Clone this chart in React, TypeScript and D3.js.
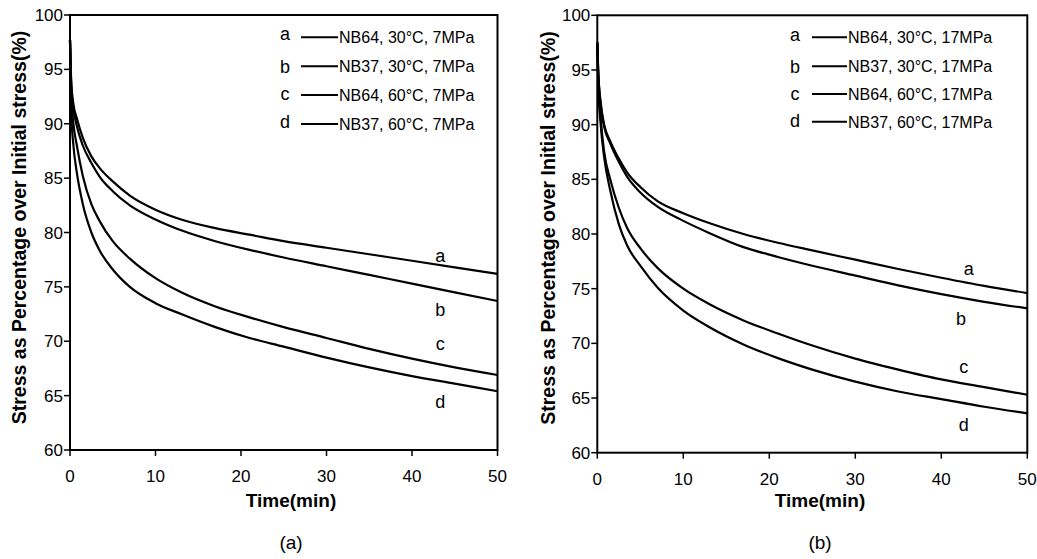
import React from "react";
import * as d3 from "d3";

// ---------- data ----------
const timesLeft = [0, 0.15, 0.4, 0.8, 1.5, 2.5, 3.5, 5, 7, 10, 13, 17, 21, 25, 30, 35, 40, 45, 50];
const leftA = [97.7, 93.8, 91.8, 90.5, 88.7, 87.0, 85.9, 84.7, 83.4, 82.1, 81.2, 80.4, 79.8, 79.2, 78.6, 78.0, 77.4, 76.8, 76.2];
const leftB = [97.7, 93.5, 91.4, 89.8, 88.0, 86.4, 85.1, 83.8, 82.5, 81.2, 80.2, 79.2, 78.4, 77.7, 76.9, 76.1, 75.3, 74.5, 73.7];
const leftC = [97.7, 92.5, 90.0, 88.0, 85.2, 82.6, 81.0, 79.2, 77.6, 75.8, 74.5, 73.2, 72.2, 71.3, 70.3, 69.3, 68.4, 67.6, 66.9];
const leftD = [97.7, 91.0, 88.0, 85.5, 82.6, 80.0, 78.3, 76.6, 75.0, 73.5, 72.5, 71.3, 70.3, 69.5, 68.5, 67.6, 66.8, 66.1, 65.4];

const timesRight = [0, 0.1, 0.4, 0.8, 1.5, 2.5, 3.5, 5, 7, 10, 13, 17, 21, 25, 30, 35, 40, 45, 50];
const rightA = [97.5, 95.0, 92.0, 90.0, 88.5, 86.9, 85.6, 84.3, 83.0, 81.9, 81.0, 80.0, 79.2, 78.5, 77.65, 76.8, 76.0, 75.25, 74.6];
const rightB = [97.5, 95.0, 91.8, 89.8, 88.3, 86.6, 85.2, 83.8, 82.5, 81.2, 80.1, 78.8, 77.9, 77.1, 76.2, 75.3, 74.5, 73.8, 73.2];
const rightC = [97.5, 94.5, 90.5, 87.5, 85.0, 82.4, 80.5, 78.7, 76.9, 75.0, 73.6, 72.1, 70.9, 69.8, 68.6, 67.6, 66.7, 66.0, 65.3];
const rightD = [97.5, 94.0, 90.0, 87.0, 84.0, 80.9, 78.9, 77.1, 75.1, 73.0, 71.5, 69.9, 68.65, 67.6, 66.5, 65.6, 64.9, 64.2, 63.6];

const seriesKeys = ["a", "b", "c", "d"];
const legendLeft = ["NB64, 30°C, 7MPa", "NB37, 30°C, 7MPa", "NB64, 60°C, 7MPa", "NB37, 60°C, 7MPa"];
const legendRight = ["NB64, 30°C, 17MPa", "NB37, 30°C, 17MPa", "NB64, 60°C, 17MPa", "NB37, 60°C, 17MPa"];
// curve-end label anchors (time, value)
const labelTimesLeft = [43.3, 43.3, 43.3, 43.3];
const labelValuesLeft = [77.3, 72.3, 69.2, 63.9];
const labelTimesRight = [43.2, 42.3, 42.6, 42.6];
const labelValuesRight = [76.25, 71.7, 67.3, 62.0];

const xTickValues = [0, 10, 20, 30, 40, 50];
const yTickValues = [60, 65, 70, 75, 80, 85, 90, 95, 100];
const xTitle = "Time(min)";
const yTitle = "Stress as Percentage over Initial stress(%)";

const FONT = "'Liberation Sans', Arial, Helvetica, sans-serif";

type PanelProps = {
  x0: number; x1: number; y0: number; y1: number;
  times: number[];
  series: number[][];
  legend: string[];
  letterX: number;
  letterBaselines: number[];
  lineX0: number; lineX1: number;
  legendBaselines: number[];
  labelTimes: number[];
  labelValues: number[];
  yTitleX: number; yTitleY: number;
  centerX: number;
  caption: string;
};

function Panel(p: PanelProps) {
  const x = d3.scaleLinear().domain([0, 50]).range([p.x0, p.x1]);
  const y = d3.scaleLinear().domain([60, 100]).range([p.y0, p.y1]);
  const line = d3
    .line<[number, number]>()
    .x((d) => x(d[0]))
    .y((d) => y(d[1]))
    .curve(d3.curveMonotoneX);

  return (
    <g>
      {/* curves */}
      {p.series.map((vals, i) => (
        <path
          key={"s" + i}
          d={line(p.times.map((t, j) => [t, vals[j]] as [number, number])) || ""}
          fill="none"
          stroke="#000"
          strokeWidth={2.2}
          strokeLinejoin="round"
        />
      ))}
      {/* frame */}
      <rect x={p.x0} y={p.y1} width={p.x1 - p.x0} height={p.y0 - p.y1} fill="none" stroke="#000" strokeWidth={2} />
      {/* y ticks */}
      {yTickValues.map((v) => (
        <g key={"yt" + v}>
          <line x1={p.x0 - 6} x2={p.x0} y1={y(v)} y2={y(v)} stroke="#000" strokeWidth={1.5} />
          <text x={p.x0 - 7} y={y(v)} dy="0.36em" textAnchor="end" fontSize={17} fontFamily={FONT} fill="#000">
            {v}
          </text>
        </g>
      ))}
      {/* x ticks */}
      {xTickValues.map((v) => (
        <g key={"xt" + v}>
          <line x1={x(v)} x2={x(v)} y1={p.y0} y2={p.y0 + 6} stroke="#000" strokeWidth={1.5} />
          <text x={x(v)} y={p.y0 + 32} textAnchor="middle" fontSize={17} fontFamily={FONT} fill="#000">
            {v}
          </text>
        </g>
      ))}
      {/* axis titles */}
      <text x={p.centerX} y={507} textAnchor="middle" fontSize={19} fontWeight="bold" fontFamily={FONT} fill="#000">
        {xTitle}
      </text>
      <text
        transform={`translate(${p.yTitleX},${p.yTitleY}) rotate(-90)`}
        textAnchor="middle"
        fontSize={19.5}
        fontWeight="bold"
        fontFamily={FONT}
        fill="#000"
      >
        {yTitle}
      </text>
      {/* legend */}
      {seriesKeys.map((k, i) => (
        <g key={"lg" + k}>
          <text x={p.letterX} y={p.letterBaselines[i]} textAnchor="middle" fontSize={18} fontFamily={FONT} fill="#000">
            {k}
          </text>
          <line
            x1={p.lineX0}
            x2={p.lineX1}
            y1={p.legendBaselines[i] - 6}
            y2={p.legendBaselines[i] - 6}
            stroke="#000"
            strokeWidth={2}
          />
          <text x={p.lineX1 + 1} y={p.legendBaselines[i]} fontSize={16} fontFamily={FONT} fill="#000">
            {p.legend[i]}
          </text>
        </g>
      ))}
      {/* curve labels */}
      {seriesKeys.map((k, i) => (
        <text
          key={"cl" + k}
          x={x(p.labelTimes[i])}
          y={y(p.labelValues[i])}
          textAnchor="middle"
          fontSize={18}
          fontFamily={FONT}
          fill="#000"
        >
          {k}
        </text>
      ))}
      {/* caption */}
      <text x={p.centerX} y={549} textAnchor="middle" fontSize={19} fontFamily={FONT} fill="#000">
        {p.caption}
      </text>
    </g>
  );
}

export default function App() {
  return (
    <svg
      width={1037}
      height={559}
      viewBox="0 0 1037 559"
      style={{ position: "absolute", left: 0, top: 0, background: "#fff" }}
    >
      <rect x={0} y={0} width={1037} height={559} fill="#fff" />
      <Panel
        x0={70}
        x1={497.5}
        y0={450}
        y1={15}
        times={timesLeft}
        series={[leftA, leftB, leftC, leftD]}
        legend={legendLeft}
        letterX={285}
        letterBaselines={[39.5, 73, 100, 127.5]}
        lineX0={301}
        lineX1={338}
        legendBaselines={[43.3, 72.3, 101, 130]}
        labelTimes={labelTimesLeft}
        labelValues={labelValuesLeft}
        yTitleX={26}
        yTitleY={227.5}
        centerX={291}
        caption="(a)"
      />
      <Panel
        x0={597.3}
        x1={1027.3}
        y0={452.7}
        y1={15.3}
        times={timesRight}
        series={[rightA, rightB, rightC, rightD]}
        legend={legendRight}
        letterX={795}
        letterBaselines={[40.7, 72.7, 100, 127.3]}
        lineX0={812}
        lineX1={847}
        legendBaselines={[43.3, 72.3, 100, 127.7]}
        labelTimes={labelTimesRight}
        labelValues={labelValuesRight}
        yTitleX={555}
        yTitleY={228}
        centerX={820}
        caption="(b)"
      />
    </svg>
  );
}
